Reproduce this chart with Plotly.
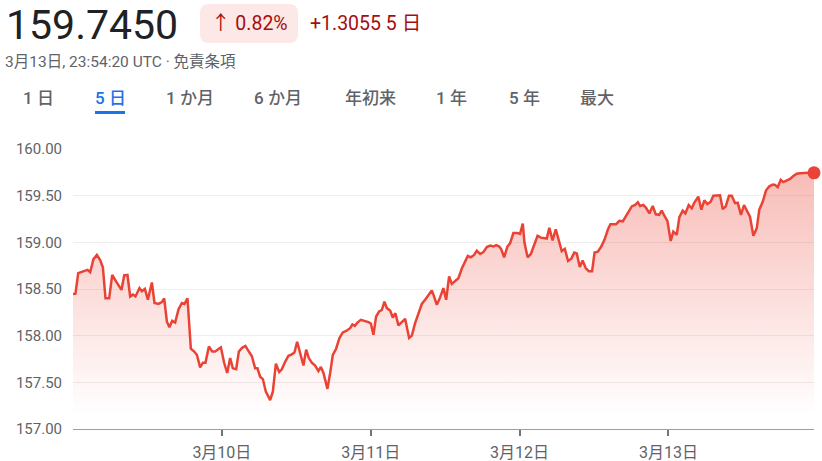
import plotly.graph_objects as go

# ---- data (hours since 3月9日 00:00 UTC, price) ----
hours = [
    0.0, 0.4, 0.84, 1.69, 2.34, 2.77, 3.30, 3.85, 4.38, 4.82,
    5.24, 5.83, 6.32, 6.96, 7.40, 7.82, 8.25, 8.78, 9.22, 9.66,
    10.07, 10.72, 11.11, 11.59, 12.07, 12.72, 13.14, 13.78, 14.33, 14.70,
    15.14, 15.55, 15.99, 16.47, 17.01, 17.55, 17.97, 18.46, 19.00, 19.54,
    19.97, 20.50, 20.94, 21.36, 21.91, 22.44, 22.92, 23.45, 23.84, 24.37,
    24.86, 25.34, 25.77, 26.31, 26.74, 27.27, 27.80, 28.35, 28.84, 29.37,
    29.74, 30.17, 30.61, 31.09, 31.79, 32.22, 32.71, 33.24, 33.67, 34.20,
    34.74, 35.28, 35.70, 36.14, 36.62, 37.15, 37.59, 38.02, 38.51, 39.04,
    39.57, 39.96, 40.38, 41.02, 41.46, 41.89, 42.42, 42.96, 43.50, 44.04,
    44.68, 45.05, 45.44, 45.86, 46.41, 46.94, 47.63, 48.02, 48.44, 48.87,
    49.36, 49.79, 50.21, 50.60, 51.13, 51.56, 51.98, 52.47, 53.01, 53.55,
    54.19, 54.63, 55.16, 55.69, 56.24, 56.77, 57.30, 57.85, 58.11, 58.66,
    59.19, 59.72, 60.16, 60.64, 61.07, 61.61, 62.14, 62.69, 63.22, 63.65,
    64.14, 64.67, 65.10, 65.64, 66.17, 66.72, 67.25, 67.78, 68.22, 68.70,
    69.02, 69.51, 70.04, 70.47, 71.00, 71.65, 72.08, 72.52, 72.78, 73.29,
    73.82, 74.37, 74.90, 75.43, 75.98, 76.38, 76.80, 77.32, 77.83, 78.32,
    78.80, 79.29, 79.82, 80.34, 80.82, 81.22, 81.71, 82.16, 82.67, 83.16,
    83.69, 84.09, 84.62, 85.17, 85.70, 86.23, 86.64, 87.56, 88.09, 88.64,
    89.17, 89.65, 90.09, 90.62, 91.06, 91.43, 91.96, 92.39, 92.93, 93.47,
    93.96, 94.49, 94.92, 95.34, 95.83, 96.37, 96.79, 97.34, 97.76, 98.31,
    98.73, 99.27, 99.76, 100.18, 100.82, 101.31, 101.79, 102.27, 102.82, 103.24,
    103.79, 104.32, 104.76, 105.24, 105.77, 106.21, 106.74, 107.17, 107.70, 108.19,
    108.72, 109.15, 109.69, 110.24, 110.65, 111.20, 111.73, 112.27, 112.82, 113.19,
    113.62, 114.11, 114.53, 115.07, 115.61, 116.14, 116.69, 117.22, 117.75, 118.56,
    119.47,
]
prices = [
    158.445, 158.45, 158.67, 158.69, 158.705, 158.68, 158.82, 158.865, 158.81, 158.73,
    158.40, 158.40, 158.65, 158.58, 158.53, 158.49, 158.645, 158.65, 158.42, 158.44,
    158.42, 158.51, 158.475, 158.50, 158.385, 158.57, 158.35, 158.34, 158.36, 158.40,
    158.15, 158.09, 158.16, 158.14, 158.28, 158.35, 158.34, 158.40, 157.86, 157.83,
    157.795, 157.66, 157.71, 157.71, 157.885, 157.83, 157.83, 157.86, 157.875, 157.71,
    157.60, 157.76, 157.65, 157.64, 157.83, 157.87, 157.89, 157.83, 157.78, 157.65,
    157.65, 157.56, 157.535, 157.40, 157.31, 157.40, 157.70, 157.61, 157.64, 157.72,
    157.785, 157.80, 157.82, 157.935, 157.81, 157.68, 157.85, 157.76, 157.71, 157.68,
    157.62, 157.665, 157.60, 157.43, 157.60, 157.795, 157.86, 157.975, 158.035, 158.05,
    158.08, 158.12, 158.105, 158.14, 158.17, 158.16, 158.145, 158.13, 158.01, 158.205,
    158.26, 158.275, 158.365, 158.295, 158.27, 158.195, 158.24, 158.11, 158.14, 158.18,
    157.975, 158.00, 158.135, 158.24, 158.34, 158.385, 158.43, 158.485, 158.44, 158.33,
    158.41, 158.51, 158.385, 158.635, 158.555, 158.59, 158.615, 158.72, 158.795, 158.855,
    158.84, 158.865, 158.91, 158.875, 158.895, 158.95, 158.965, 158.955, 158.97, 158.955,
    158.93, 158.84, 158.955, 158.99, 159.10, 159.10, 159.09, 159.20, 159.00, 158.84,
    158.875, 158.98, 159.07, 159.05, 159.04, 159.04, 159.155, 159.02, 159.14, 159.01,
    158.905, 158.93, 158.80, 158.825, 158.89, 158.88, 158.735, 158.805, 158.725, 158.69,
    158.69, 158.89, 158.90, 158.955, 159.03, 159.135, 159.195, 159.195, 159.23, 159.225,
    159.285, 159.33, 159.385, 159.40, 159.43, 159.39, 159.40, 159.37, 159.31, 159.39,
    159.30, 159.295, 159.34, 159.285, 159.23, 159.015, 159.115, 159.08, 159.27, 159.34,
    159.31, 159.40, 159.365, 159.425, 159.49, 159.35, 159.45, 159.41, 159.435, 159.50,
    159.50, 159.505, 159.355, 159.385, 159.50, 159.50, 159.42, 159.425, 159.295, 159.40,
    159.33, 159.275, 159.07, 159.15, 159.35, 159.435, 159.555, 159.60, 159.62, 159.615,
    159.59, 159.67, 159.645, 159.66, 159.68, 159.71, 159.735, 159.74, 159.745, 159.745,
    159.745,
]

x_tick_vals = [24, 48, 72, 96]
x_tick_text = ["3月10日", "3月11日", "3月12日", "3月13日"]
y_tick_vals = [157.0, 157.5, 158.0, 158.5, 159.0, 159.5, 160.0]
y_tick_text = ["157.00", "157.50", "158.00", "158.50", "159.00", "159.50", "160.00"]

price_text = "159.7450"
change_pct_text = "↑ 0.82%"
change_abs_text = "+1.3055 5 日"
timestamp_text = "3月13日, 23:54:20 UTC · 免責条項"
tabs = ["1 日", "5 日", "1 か月", "6 か月", "年初来", "1 年", "5 年", "最大"]
tab_centers = [38, 110, 190, 278, 370, 451, 524, 597]
active_tab = 1

# ---- layout geometry (pixels) ----
W, H = 822, 461
ML, MR, MT, MB = 73, 8, 149, 32
PW, PH = W - ML - MR, H - MT - MB


def px(xp):
    return (xp - ML) / PW


def py(yp):
    return (H - MB - yp) / PH


FONT = "Roboto, 'Noto Sans CJK JP', 'Noto Sans', sans-serif"
RED = "#ea4335"

fig = go.Figure()
fig.add_trace(go.Scatter(
    x=hours, y=prices, mode="lines",
    line=dict(color=RED, width=2.5),
    fill="tozeroy",
    fillgradient=dict(type="vertical",
                      colorscale=[[0, "rgba(234,67,53,0)"], [1, "rgba(234,67,53,0.36)"]],
                      start=157.15, stop=159.8),
    hoverinfo="skip", showlegend=False,
))
fig.add_trace(go.Scatter(
    x=[hours[-1]], y=[prices[-1]], mode="markers",
    marker=dict(color=RED, size=13),
    hoverinfo="skip", showlegend=False, cliponaxis=False,
))

annotations = [
    dict(x=px(4), y=py(25), text=price_text, xanchor="left", yanchor="middle",
         font=dict(size=41, color="#202124", family=FONT)),
    dict(x=px(249), y=py(23), text=change_pct_text, xanchor="center", yanchor="middle",
         font=dict(size=19.5, color="#a50e0e", family=FONT)),
    dict(x=px(308), y=py(23), text=change_abs_text, xanchor="left", yanchor="middle",
         font=dict(size=19.5, color="#a50e0e", family=FONT)),
    dict(x=px(3), y=py(62), text=timestamp_text, xanchor="left", yanchor="middle",
         font=dict(size=15.5, color="#5f6368", family=FONT)),
]
for i, (t, c) in enumerate(zip(tabs, tab_centers)):
    annotations.append(dict(
        x=px(c), y=py(98), text=t, xanchor="center", yanchor="middle",
        font=dict(size=17, color="#1a73e8" if i == active_tab else "#5f6368",
                  family=FONT, weight=500)))
for a in annotations:
    a.update(xref="paper", yref="paper", showarrow=False)


def rounded_rect(x0, y0, x1, y1, r):
    pts = [
        ("M", x0 + r, y0), ("L", x1 - r, y0), ("Q", x1, y0, x1, y0 + r),
        ("L", x1, y1 - r), ("Q", x1, y1, x1 - r, y1), ("L", x0 + r, y1),
        ("Q", x0, y1, x0, y1 - r), ("L", x0, y0 + r), ("Q", x0, y0, x0 + r, y0),
    ]
    s = ""
    for p in pts:
        cmd, coords = p[0], p[1:]
        conv = []
        for k in range(0, len(coords), 2):
            conv.append(f"{px(coords[k]):.5f},{py(coords[k + 1]):.5f}")
        s += cmd + " " + " ".join(conv) + " "
    return s + "Z"


shapes = [
    dict(type="path", xref="paper", yref="paper", path=rounded_rect(200, 4, 298, 43, 9),
         fillcolor="#fce8e6", line=dict(width=0), layer="below"),
    dict(type="rect", xref="paper", yref="paper",
         x0=px(tab_centers[active_tab] - 15), x1=px(tab_centers[active_tab] + 15),
         y0=py(114), y1=py(111), fillcolor="#1a73e8", line=dict(width=0)),
]

fig.update_layout(
    width=W, height=H,
    margin=dict(l=ML, r=MR, t=MT, b=MB, autoexpand=False),
    paper_bgcolor="white", plot_bgcolor="white",
    font=dict(family=FONT, color="#5f6368"),
    annotations=annotations, shapes=shapes,
    xaxis=dict(range=[0, hours[-1]], tickvals=x_tick_vals, ticktext=x_tick_text,
               showgrid=False, zeroline=False, showline=True, linecolor="#9aa0a6",
               linewidth=1, ticks="outside", ticklen=6, tickwidth=2, tickcolor="#70757a",
               tickfont=dict(size=16, color="#5f6368"), ticklabelstandoff=3,
               automargin=False, fixedrange=True),
    yaxis=dict(range=[157, 160], tickvals=y_tick_vals, ticktext=y_tick_text,
               showgrid=True, gridcolor="#eeeeee", gridwidth=1, zeroline=False,
               ticks="", tickfont=dict(size=15, color="#5f6368"), ticklabelstandoff=10,
               automargin=False, fixedrange=True),
)

fig.write_html("out.html", config={"displayModeBar": False},
               post_script="document.body.style.margin='0';document.body.style.overflow='hidden';")
